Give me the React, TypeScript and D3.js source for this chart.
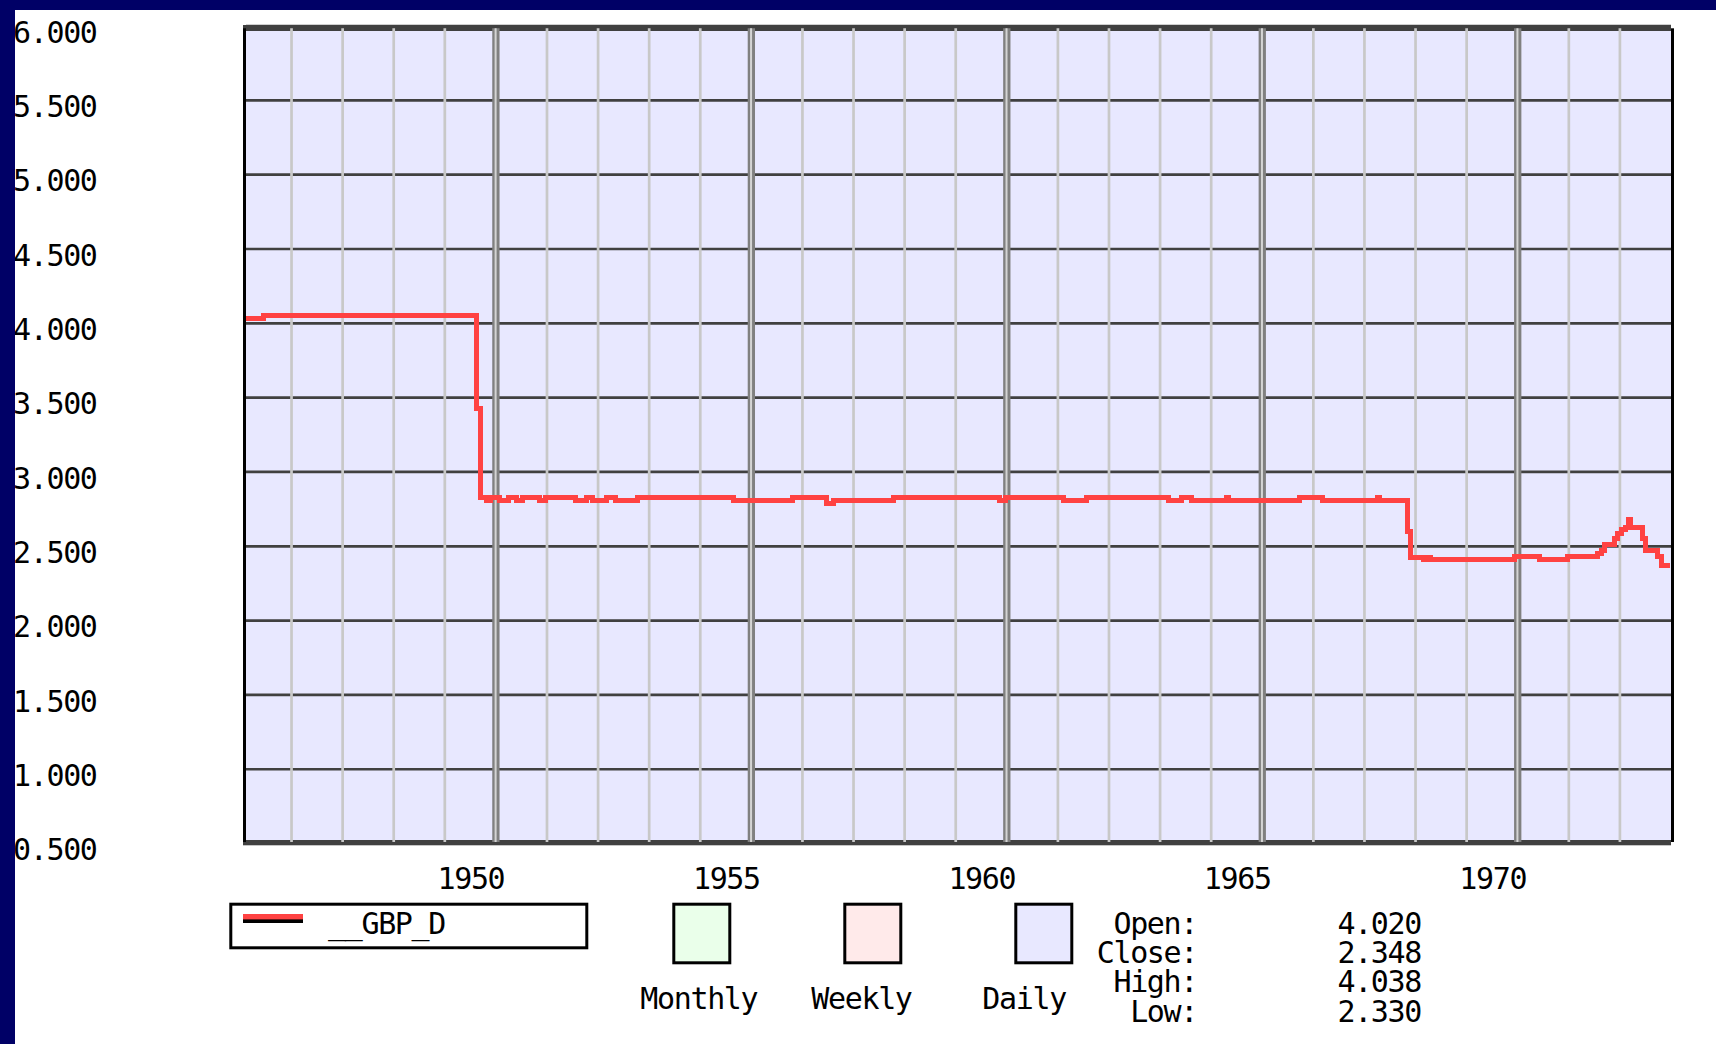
import * as d3 from 'd3';

// daily GBP/USD, [decimal year, rate], step-after
const gbpDaily: [number, number][] = [
  [1945.05, 4.03], [1945.46, 4.05], [1949.63, 3.43], [1949.69, 2.83],
  [1949.82, 2.81], [1949.9, 2.83], [1950.08, 2.81], [1950.24, 2.83],
  [1950.41, 2.81], [1950.52, 2.83], [1950.86, 2.81], [1950.97, 2.83],
  [1951.55, 2.81], [1951.77, 2.83], [1951.89, 2.81], [1952.17, 2.83],
  [1952.34, 2.81], [1952.78, 2.83], [1954.66, 2.81], [1955.81, 2.83],
  [1956.47, 2.79], [1956.6, 2.81], [1957.78, 2.83], [1959.86, 2.81],
  [1959.98, 2.83], [1961.1, 2.81], [1961.56, 2.83], [1963.16, 2.81],
  [1963.42, 2.83], [1963.61, 2.81], [1964.3, 2.83], [1964.34, 2.81],
  [1965.73, 2.83], [1966.18, 2.81], [1967.25, 2.83], [1967.29, 2.81],
  [1967.84, 2.6], [1967.91, 2.425], [1968.15, 2.408], [1968.24, 2.425],
  [1968.3, 2.408], [1969.94, 2.43], [1970.42, 2.408], [1970.98, 2.43],
  [1971.57, 2.45], [1971.64, 2.47], [1971.7, 2.51], [1971.9, 2.55],
  [1971.96, 2.585], [1972.03, 2.61], [1972.11, 2.627], [1972.16, 2.68],
  [1972.2, 2.627], [1972.45, 2.55], [1972.51, 2.475], [1972.74, 2.43],
  [1972.81, 2.37], [1972.99, 2.37],
];

const yTicks = [0.5, 1, 1.5, 2, 2.5, 3, 3.5, 4, 4.5, 5, 5.5, 6];
const majorYears = [1950, 1955, 1960, 1965, 1970];
const seriesName = '__GBP_D';
const frequencies = ['Monthly', 'Weekly', 'Daily'];
const statLabels = ['Open:', 'Close:', 'High:', 'Low:'];
const statValues = ['4.020', '2.348', '4.038', '2.330'];

const W = 1716;
const H = 1044;
const mono = "'DejaVu Sans Mono', monospace";
const freqFill = ['#eaffea', '#ffeaea', '#e8e8ff'];

export default function App() {
  const x = d3.scaleLinear().domain([1945.05, 1973.0]).range([243, 1671]);
  const y = d3.scaleLinear().domain([0.5, 6]).range([843.6, 26]);

  const minorYears = d3.range(1946, 1973).filter((yr) => yr % 5 !== 0);

  const line = d3.line<[number, number]>()
    .x((d) => x(d[0]))
    .y((d) => y(d[1]))
    .curve(d3.curveStepAfter);

  const txt = { fontFamily: mono, fontSize: 30, letterSpacing: -1.35, fill: '#000' } as const;

  return (
    <svg width={W} height={H} style={{ position: 'absolute', left: 0, top: 0, display: 'block' }}>
      <rect width={W} height={H} fill="#fff" />
      <defs>
        <clipPath id="plot">
          <rect x={246} y={25} width={1425} height={820} />
        </clipPath>
      </defs>

      {/* plot background + grid */}
      <rect x={246} y={25} width={1425} height={820} fill="#e8e8ff" />
      {yTicks.map((v) => (
        <line key={v} x1={246} x2={1671} y1={y(v)} y2={y(v)} stroke="#404040" strokeWidth={2.7} />
      ))}
      <rect x={243} y={25} width={1428} height={6} fill="#404040" />
      <rect x={243} y={840} width={1428} height={5.3} fill="#404040" />
      {minorYears.map((yr) => (
        <line key={yr} x1={x(yr)} x2={x(yr)} y1={28.3} y2={842} stroke="#c8c8c8" strokeWidth={2.7} />
      ))}
      {majorYears.map((yr) => (
        <g key={yr}>
          <line x1={x(yr)} x2={x(yr)} y1={28.3} y2={842} stroke="#808080" strokeWidth={7.3} />
          <line x1={x(yr) - 0.3} x2={x(yr) - 0.3} y1={28.3} y2={842} stroke="#d4d4d4" strokeWidth={2} />
        </g>
      ))}
      <rect x={243} y={28.3} width={3} height={813.7} fill="#000" />
      <rect x={1671} y={28.3} width={3} height={813.7} fill="#000" />

      {/* series */}
      <path
        d={line(gbpDaily) ?? ''}
        fill="none"
        stroke="#ff4242"
        strokeWidth={5}
        clipPath="url(#plot)"
        shapeRendering="crispEdges"
      />

      {/* y labels */}
      {yTicks.map((v) => (
        <text key={v} x={13} y={y(v) + 16.8} {...txt}>
          {d3.format('.3f')(v)}
        </text>
      ))}

      {/* x labels */}
      {majorYears.map((yr) => (
        <text key={yr} x={x(yr) - 25} y={889} textAnchor="middle" {...txt}>
          {yr}
        </text>
      ))}

      {/* series legend */}
      <rect x={230.8} y={904.2} width={356} height={43.6} fill="#fff" stroke="#000" strokeWidth={3} />
      <rect x={243} y={914} width={60} height={9} fill="#000" />
      <rect x={243} y={914} width={60} height={5.4} fill="#ff4242" />
      <text x={328} y={934} {...txt}>{seriesName}</text>

      {/* frequency swatches */}
      {frequencies.map((f, i) => {
        const bx = 672.3 + i * 171;
        return (
          <g key={f}>
            <rect x={bx + 1.5} y={904.2} width={56} height={58.6} fill={freqFill[i]} stroke="#000" strokeWidth={3} />
            <text x={bx - 32} y={1008.5} {...txt}>{f}</text>
          </g>
        );
      })}

      {/* OHLC readout */}
      {statLabels.map((s, i) => (
        <g key={s}>
          <text x={1197} y={933.5 + i * 29.4} textAnchor="end" {...txt}>{s}</text>
          <text x={1421} y={933.5 + i * 29.4} textAnchor="end" {...txt}>{statValues[i]}</text>
        </g>
      ))}

      {/* navy page border */}
      <rect x={0} y={0} width={W} height={10} fill="#000066" />
      <rect x={0} y={0} width={15} height={H} fill="#000066" />
    </svg>
  );
}
